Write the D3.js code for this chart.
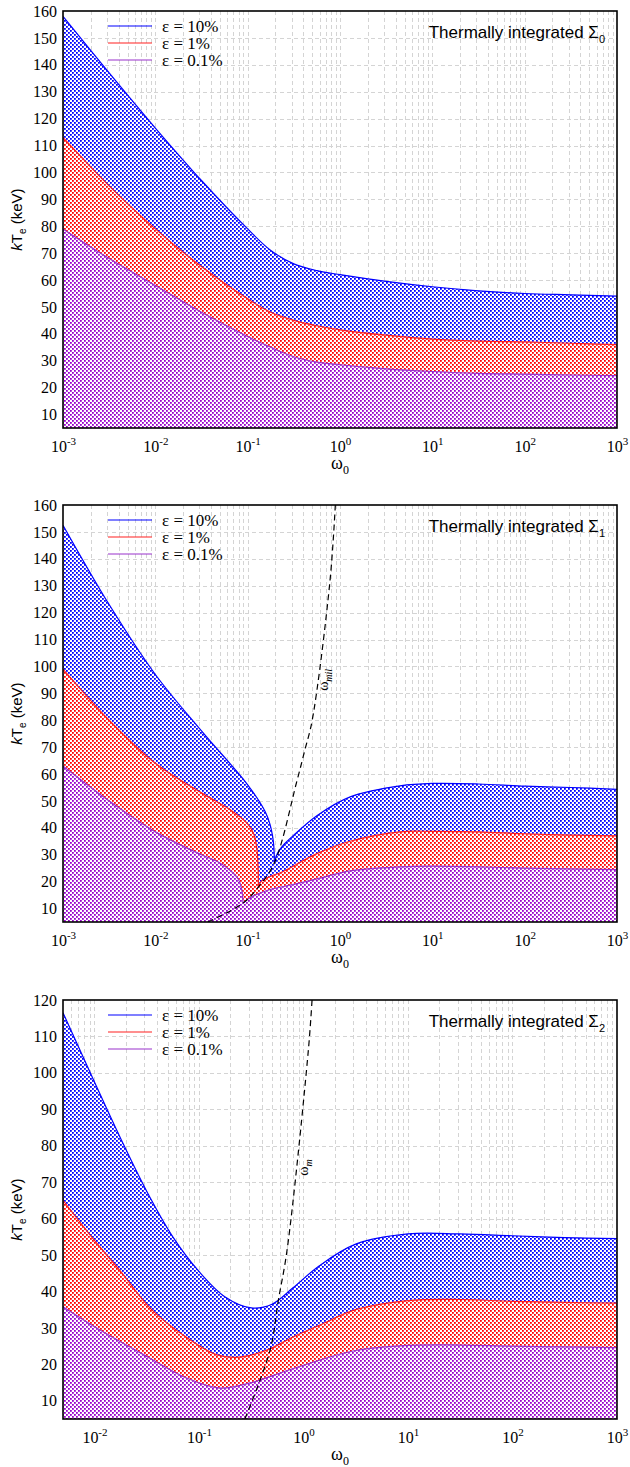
<!DOCTYPE html>
<html>
<head>
<meta charset="utf-8">
<script src="https://cdn.jsdelivr.net/npm/d3@7"></script>
<style>
  body { margin: 0; background: #fff; }
  svg { display: block; }
</style>
</head>
<body>
<svg id="chart" width="630" height="1467"></svg>
<script>

// ---- data: [omega_0, kT_e in keV] ----
// curves with a cusp are stored as two branches that meet at the cusp

var s0Blue = [[0.001,158],[0.00316,137],[0.01,116.5],[0.0316,97],[0.1,79],[0.178,71],[0.316,66],[0.562,63.5],[1,62],[3.16,59.5],[10,57.5],[31.6,56],[100,55],[316,54.5],[1000,54]];
var s0Red = [[0.001,113],[0.00316,95],[0.01,79],[0.0316,65],[0.1,53],[0.178,48],[0.316,45],[0.562,43],[1,41.5],[3.16,39.5],[10,38],[31.6,37.3],[100,37],[316,36.5],[1000,36]];
var s0Purple = [[0.001,79],[0.00316,68],[0.01,58],[0.0316,48],[0.1,39],[0.178,35],[0.316,31.5],[0.562,29.5],[1,28.5],[3.16,27],[10,26],[31.6,25.3],[100,25],[316,24.7],[1000,24.5]];

var s1BlueLeft = [[0.001,152.5],[0.00316,123],[0.01,97],[0.0316,76],[0.1,56],[0.155,46],[0.174,41.5],[0.186,37],[0.192,33],[0.195,27]];
var s1BlueRight = [[0.195,27],[0.21,30.5],[0.25,34],[0.309,37],[0.562,44.5],[1.29,51.5],[4.47,55.6],[10,56.5],[31.6,56.3],[100,55.5],[316,55],[1000,54.3]];
var s1RedLeft = [[0.001,99],[0.00316,80],[0.01,64],[0.0316,53],[0.063,47],[0.1,41.5],[0.117,37.5],[0.126,32],[0.13,24],[0.1306,18]];
var s1RedRight = [[0.1306,18],[0.14,20],[0.178,22],[0.24,23.7],[0.562,30.4],[1.29,35],[4.47,38.5],[10,38.7],[31.6,38.5],[100,37.8],[316,37.3],[1000,37]];
var s1PurpleLeft = [[0.001,63],[0.00316,50],[0.01,38.5],[0.0316,30],[0.047,27.5],[0.063,24.5],[0.079,21],[0.085,18],[0.088,15],[0.089,12]];
var s1PurpleRight = [[0.089,12],[0.1,13.5],[0.162,16.7],[0.316,19],[0.562,21],[1.29,24],[4.47,25.5],[10,25.8],[31.6,25.5],[100,25],[1000,24.5]];
var s1Dash = [[0.037,5],[0.089,12],[0.1306,18],[0.195,27],[0.339,57],[0.417,69],[0.5,80],[0.78,132],[0.89,160]];

var s2Blue = [[0.005,116.5],[0.01,97.5],[0.0178,82],[0.0316,67.5],[0.0562,55],[0.1,45.5],[0.178,38.5],[0.316,35.5],[0.5,36.5],[0.794,41],[1.41,47],[3.16,53],[10,55.8],[31.6,55.8],[100,55.3],[316,54.8],[1000,54.5]];
var s2Red = [[0.005,65],[0.01,54],[0.0178,45.5],[0.0339,35.5],[0.0776,27.2],[0.148,22.6],[0.245,22],[0.447,23.9],[0.794,27.5],[1.44,30.8],[3.16,35],[10,37.5],[31.6,37.8],[100,37.3],[316,37],[1000,36.8]];
var s2Purple = [[0.005,35.8],[0.0113,29.4],[0.0339,21.7],[0.0767,16.2],[0.158,13.5],[0.309,14.9],[0.638,17.9],[1.44,21.2],[3.16,23.8],[10,25.2],[31.6,25.3],[100,25],[316,24.8],[1000,24.6]];
var s2Dash = [[0.275,5],[0.479,23.9],[0.575,37.6],[0.697,51.4],[1.114,106.3],[1.208,120]];

var legendLabels = ['\u03b5 = 10%', '\u03b5 = 1%', '\u03b5 = 0.1%'];
var xMajorTicks = [0.001, 0.01, 0.1, 1, 10, 100, 1000];

var panels = [
    { top: 11,   bottom: 428,  xDomain: [0.001, 1000], yDomain: [5, 160], sub: '0',
      curves: [[s0Blue], [s0Red], [s0Purple]], dash: null },
    { top: 505,  bottom: 922,  xDomain: [0.001, 1000], yDomain: [5, 160], sub: '1',
      curves: [[s1BlueLeft, s1BlueRight], [s1RedLeft, s1RedRight], [s1PurpleLeft, s1PurpleRight]],
      dash: s1Dash, dashLabel: 'mil', dashAt: [0.74, 95] },
    { top: 1000, bottom: 1419, xDomain: [0.005, 1000], yDomain: [5, 120], sub: '2',
      curves: [[s2Blue], [s2Red], [s2Purple]],
      dash: s2Dash, dashLabel: 'm', dashAt: [1.1, 74] }
];

var lineColors = ['#0000ff', '#ff2020', '#9933cc'];
var dotColors = ['#0000ff', '#ff0000', '#9900cc'];
var left = 63, right = 617;
var serif = '"Liberation Serif", "Times New Roman", serif',
    sans = '"Liberation Sans", Arial, sans-serif';

var svg = d3.select('#chart');
var defs = svg.append('defs');

// stipple fills, opaque so they can be stacked
dotColors.forEach(function (c, i) {
    var p = defs.append('pattern')
        .attr('id', 'dots' + i)
        .attr('patternUnits', 'userSpaceOnUse')
        .attr('width', 4).attr('height', 4);
    p.append('rect').attr('width', 4).attr('height', 4).attr('fill', '#fff');
    p.append('rect').attr('x', 0).attr('y', 0).attr('width', 1.8).attr('height', 1.8).attr('fill', c);
    p.append('rect').attr('x', 2).attr('y', 2).attr('width', 1.8).attr('height', 1.8).attr('fill', c);
});


function drawPanel (cfg, k) {

    var x = d3.scaleLog().domain(cfg.xDomain).range([left, right]),
        y = d3.scaleLinear().domain(cfg.yDomain).range([cfg.bottom, cfg.top]);

    var g = svg.append('g');

    defs.append('clipPath').attr('id', 'clip' + k)
        .append('rect')
        .attr('x', left).attr('y', cfg.top)
        .attr('width', right - left).attr('height', cfg.bottom - cfg.top);

    // grid
    var minor = [];
    for (var e = -3; e < 3; e++) {
        for (var m = 1; m < 10; m++) {
            var v = m * Math.pow(10, e);
            if (v > cfg.xDomain[0] * 1.0001 && v < cfg.xDomain[1] * 0.9999) minor.push(v);
        }
    }
    var yTicks = d3.range(10, cfg.yDomain[1] + 1, 10);

    var grid = g.append('g').attr('stroke', '#d4d4d4').attr('stroke-width', 1)
        .attr('stroke-dasharray', '4,3');
    grid.selectAll('.vx').data(minor).enter().append('line')
        .attr('x1', function (d) { return Math.round(x(d)) + 0.5; })
        .attr('x2', function (d) { return Math.round(x(d)) + 0.5; })
        .attr('y1', cfg.top).attr('y2', cfg.bottom);
    grid.selectAll('.hy').data(yTicks.filter(function (d) { return d < cfg.yDomain[1]; }))
        .enter().append('line')
        .attr('x1', left).attr('x2', right)
        .attr('y1', function (d) { return Math.round(y(d)) + 0.5; })
        .attr('y2', function (d) { return Math.round(y(d)) + 0.5; });

    var curve = d3.curveCatmullRom.alpha(0.5);
    var area = d3.area()
        .x(function (d) { return x(d[0]); })
        .y0(cfg.bottom)
        .y1(function (d) { return y(d[1]); })
        .curve(curve);
    var line = d3.line()
        .x(function (d) { return x(d[0]); })
        .y(function (d) { return y(d[1]); })
        .curve(curve);

    var plot = g.append('g').attr('clip-path', 'url(#clip' + k + ')');

    // painter's order: blue band, then red, then purple on top
    cfg.curves.forEach(function (branches, i) {
        branches.forEach(function (b) {
            plot.append('path').attr('d', area(b)).attr('fill', 'url(#dots' + i + ')');
        });
    });
    cfg.curves.forEach(function (branches, i) {
        branches.forEach(function (b) {
            plot.append('path').attr('d', line(b))
                .attr('fill', 'none').attr('stroke', lineColors[i]).attr('stroke-width', 1.2);
        });
    });

    if (cfg.dash) {
        plot.append('path').attr('d', line(cfg.dash))
            .attr('fill', 'none').attr('stroke', '#000').attr('stroke-width', 1.2)
            .attr('stroke-dasharray', '6,4');
        var lt = g.append('text')
            .attr('transform', 'translate(' + x(cfg.dashAt[0]) + ',' + y(cfg.dashAt[1]) + ') rotate(-90)')
            .attr('text-anchor', 'middle')
            .style('font-family', serif).style('font-size', '14px');
        lt.append('tspan').text('\u03c9');
        lt.append('tspan').attr('dy', 4).style('font-size', '10px').attr('font-style', 'italic')
            .text(cfg.dashLabel);
    }

    // frame
    g.append('rect')
        .attr('x', left).attr('y', cfg.top)
        .attr('width', right - left).attr('height', cfg.bottom - cfg.top)
        .attr('fill', 'none').attr('stroke', '#000').attr('stroke-width', 1.6);

    // y axis labels
    var yAxis = d3.axisLeft(y).tickValues(yTicks).tickSize(0).tickPadding(6);
    var ya = g.append('g').attr('transform', 'translate(' + left + ',0)').call(yAxis);
    ya.attr('font-family', null).attr('font-size', null);
    ya.select('.domain').remove();
    ya.selectAll('text').style('font-family', serif).style('font-size', '16px').attr('fill', '#000');

    // x axis labels with superscripts
    var xTicks = xMajorTicks.filter(function (d) { return d >= cfg.xDomain[0]; });
    var xAxis = d3.axisBottom(x).tickValues(xTicks).tickSize(0).tickPadding(0)
        .tickFormat(function () { return ''; });
    var xa = g.append('g').attr('transform', 'translate(0,' + cfg.bottom + ')').call(xAxis);
    xa.attr('font-family', null).attr('font-size', null);
    xa.select('.domain').remove();
    xa.selectAll('.tick text').each(function (d) {
        var t = d3.select(this)
            .attr('y', 24).attr('dy', 0)
            .style('font-family', serif).style('font-size', '16px').attr('fill', '#000');
        t.append('tspan').text('10');
        t.append('tspan').attr('dy', -7).style('font-size', '11px')
            .text(String(Math.round(Math.log10(d))));
    });

    // x title
    var xt = g.append('text')
        .attr('x', (left + right) / 2).attr('y', cfg.bottom + 41)
        .attr('text-anchor', 'middle')
        .style('font-family', serif).style('font-size', '18px');
    xt.append('tspan').text('\u03c9');
    xt.append('tspan').attr('dy', 5).style('font-size', '12px').text('0');

    // y title
    var yt = g.append('text')
        .attr('transform', 'translate(22,' + (cfg.top + cfg.bottom) / 2 + ') rotate(-90)')
        .attr('text-anchor', 'middle')
        .style('font-family', sans).style('font-size', '15px');
    yt.append('tspan').attr('font-style', 'italic').text('k');
    yt.append('tspan').text('T');
    yt.append('tspan').attr('dy', 4).style('font-size', '10px').text('e');
    yt.append('tspan').attr('dy', -4).text(' (keV)');

    // legend
    var lg = g.append('g').attr('transform', 'translate(108,' + (cfg.top + 15) + ')');
    legendLabels.forEach(function (l, i) {
        lg.append('line')
            .attr('x1', 0).attr('x2', 44)
            .attr('y1', i * 17).attr('y2', i * 17)
            .attr('stroke', lineColors[i]).attr('stroke-width', 1.2);
        lg.append('text')
            .attr('x', 54).attr('y', i * 17 + 6)
            .style('font-family', serif).style('font-size', '17px')
            .text(l);
    });

    // title
    var tt = g.append('text')
        .attr('x', right - 12).attr('y', cfg.top + 27)
        .attr('text-anchor', 'end')
        .style('font-family', sans).style('font-size', '17px');
    tt.append('tspan').text('Thermally integrated \u03a3');
    tt.append('tspan').attr('dy', 5).style('font-size', '11px').text(cfg.sub);

}

panels.forEach(drawPanel);

</script>
</body>
</html>
